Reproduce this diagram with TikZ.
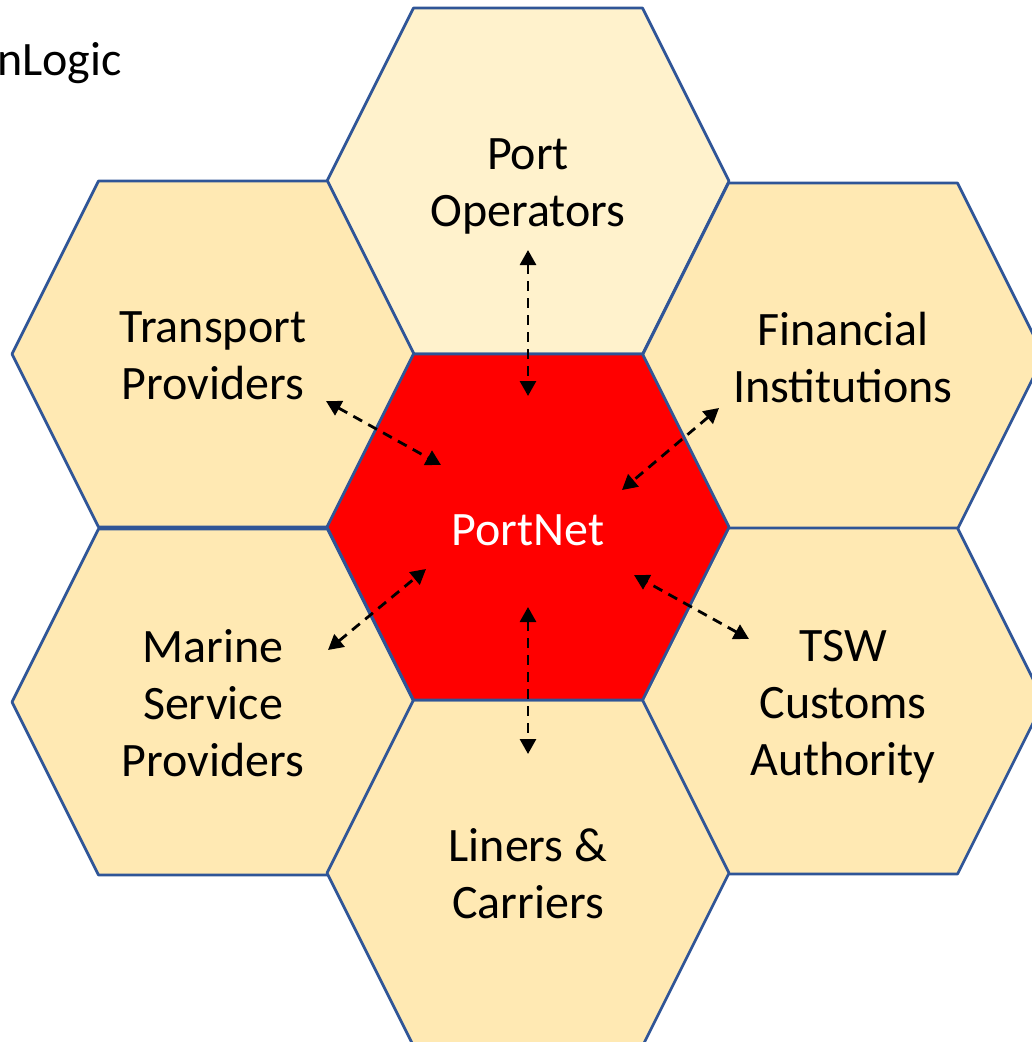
\documentclass[tikz,border=0pt]{standalone}
\usepackage{fontspec}
\setmainfont{Carlito}
\usetikzlibrary{arrows.meta}
\tikzset{
 hexa/.style={draw=hexline,line width=2.7pt,line join=round},
 lbl/.style={font=\fontsize{48}{57}\selectfont,align=center,text=black,inner sep=0pt},
 link/.style={draw=black,line width=2.8pt,dash pattern=on 10pt off 7pt,{Stealth[length=15pt,width=16pt,inset=0pt]}-{Stealth[length=15pt,width=16pt,inset=0pt]}}
}
\definecolor{hexline}{HTML}{2F5597}
\definecolor{hexfill}{HTML}{FFE9B3}
\definecolor{hexlight}{HTML}{FFF2CC}
\begin{document}
\begin{tikzpicture}[x=1pt,y=-1pt]
\useasboundingbox (0,0) rectangle (1032,1042);
\clip (0,0) rectangle (1032,1042);
\newcommand{\hexat}[3]{\draw[hexa,fill=#3] ({#1-201},#2) -- ({#1-114.5},{#2-173}) -- ({#1+114.5},{#2-173}) -- ({#1+201},#2) -- ({#1+114.5},{#2+173}) -- ({#1-114.5},{#2+173}) -- cycle;}
\hexat{528}{181}{hexlight}
\hexat{213}{354}{hexfill}
\hexat{843}{356}{hexfill}
\hexat{213}{702}{hexfill}
\hexat{843}{701}{hexfill}
\hexat{528}{873}{hexfill}
\hexat{528}{527}{red}
\node[lbl] (port) at (528,186) {Port\\Operators};
\node[lbl] (trans) at (213,356) {Transport\\Providers};
\node[lbl] (fin) at (843,357.5) {Financial\\Institutions};
\node[lbl,text=white] (net) at (528,530) {PortNet};
\node[lbl] (mar) at (213,703) {Marine\\Service\\Providers};
\node[lbl] (tsw) at (843,706.5) {TSW\\Customs\\Authority};
\node[lbl] (lin) at (528,873.5) {Liners \&\\Carriers};
\node[lbl,anchor=east] (logic) at (122,63.5) {nLogic};
\coordinate (a1) at (528,250); \coordinate (a2) at (528,396);
\coordinate (b1) at (326,401); \coordinate (b2) at (441,465);
\coordinate (c1) at (719,408); \coordinate (c2) at (622,490);
\coordinate (d1) at (328,650); \coordinate (d2) at (426,569);
\coordinate (e1) at (749,639); \coordinate (e2) at (634,575);
\coordinate (f1) at (528,607); \coordinate (f2) at (528,754);
\draw[link] (a1) -- (a2);
\draw[link] (b1) -- (b2);
\draw[link] (c1) -- (c2);
\draw[link] (d1) -- (d2);
\draw[link] (e1) -- (e2);
\draw[link] (f1) -- (f2);
\end{tikzpicture}
\end{document}
